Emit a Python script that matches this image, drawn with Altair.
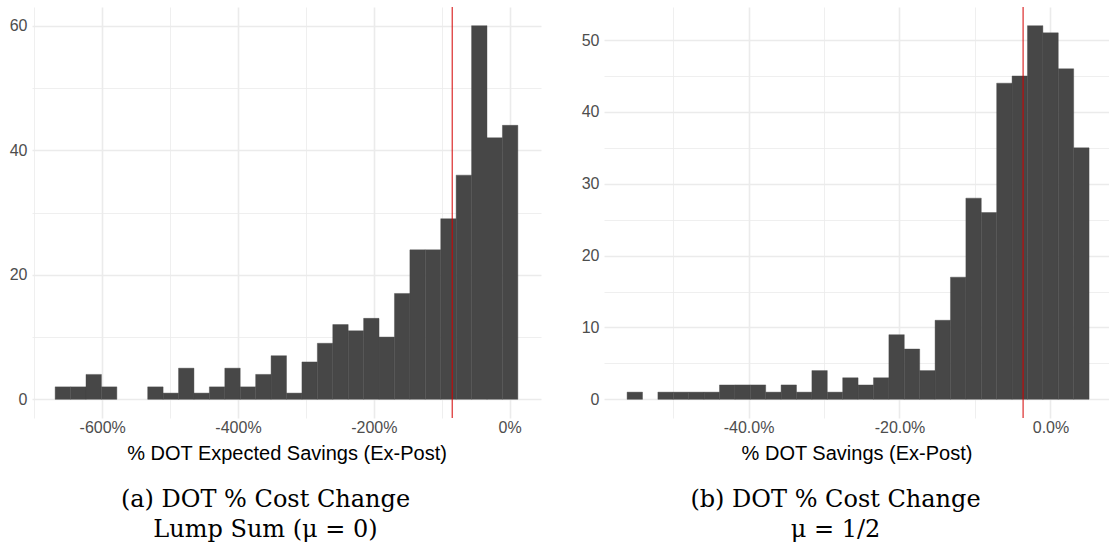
import altair as alt
import pandas as pd

# ---- Panel (a): expected savings, lump sum (percent units) ----
a_lo, a_hi = -669.3, 12.2          # histogram range, 30 equal bins
a_counts = [2, 2, 4, 2, 0, 0, 2, 1, 5, 1, 2, 5, 2, 4, 7,
            1, 6, 9, 12, 11, 13, 10, 17, 24, 24, 29, 36, 60, 42, 44]
a_vline = -84.5
a_xdomain = [-703.4, 46.3]
a_ydomain = [-3, 63]
a_xgrid = [-700, -600, -500, -400, -300, -200, -100, 0]
a_ygrid = [0, 10, 20, 30, 40, 50, 60]

# ---- Panel (b): savings with mu = 1/2 (percent units) ----
b_lo, b_hi = -56.08, 5.11
b_counts = [1, 0, 1, 1, 1, 1, 2, 2, 2, 1, 2, 1, 4, 1, 3,
            2, 3, 9, 7, 4, 11, 17, 28, 26, 44, 45, 52, 51, 46, 35]
b_vline = -3.63
b_xdomain = [-59.14, 7.75]
b_ydomain = [-2.6, 54.6]
b_xgrid = [-50, -40, -30, -20, -10, 0]
b_ygrid = [0, 5, 10, 15, 20, 25, 30, 35, 40, 45, 50]

BAR = "#474747"
VLINE = "#D40000"
GRID = "#EBEBEB"
SANS = "Liberation Sans"
SERIF = "DejaVu Serif"


def bins(lo, hi, counts):
    w = (hi - lo) / len(counts)
    return pd.DataFrame({
        "x0": [lo + i * w for i in range(len(counts))],
        "x1": [lo + (i + 1) * w for i in range(len(counts))],
        "n": counts,
    })


def panel(df, vline, xdom, ydom, xgrid, ygrid, xmajor, ymajor,
          xlabel_expr, xtitle, caption, width, height):
    grid_w = {"condition": {"test": f"abs(datum.value % {xmajor}) < 1e-9", "value": 1.6}, "value": 0.8}
    grid_wy = {"condition": {"test": f"abs(datum.value % {ymajor}) < 1e-9", "value": 1.6}, "value": 0.8}
    x_axis = alt.Axis(
        values=xgrid, grid=True, gridColor=GRID, gridWidth=grid_w,
        ticks=False, domain=False, labelPadding=1.5,
        labelExpr=f"abs(datum.value % {xmajor}) < 1e-9 ? {xlabel_expr} : ''",
        labelFont=SANS, labelFontSize=16, labelColor="#4D4D4D",
        title=xtitle, titleFont=SANS, titleFontSize=20, titleFontWeight="normal",
        titleColor="black", titlePadding=8,
    )
    y_axis = alt.Axis(
        values=ygrid, grid=True, gridColor=GRID, gridWidth=grid_wy,
        ticks=False, domain=False, labelPadding=5,
        labelExpr=f"abs(datum.value % {ymajor}) < 1e-9 ? datum.label : ''",
        labelFont=SANS, labelFontSize=16, labelColor="#4D4D4D", title=None,
    )
    xs = alt.Scale(domain=xdom, nice=False, zero=False)
    ys = alt.Scale(domain=ydom, nice=False, zero=False)

    # empty bins draw nothing
    bars = alt.Chart(df).transform_filter("datum.n > 0").mark_rect(
        color=BAR, stroke=BAR, strokeWidth=0.4
    ).encode(
        x=alt.X("x0:Q", scale=xs, axis=x_axis),
        x2="x1:Q",
        y=alt.Y("n:Q", scale=ys, axis=y_axis),
        y2=alt.datum(0),
    )
    rule = alt.Chart(pd.DataFrame({"v": [vline]})).mark_rule(
        color=VLINE, strokeWidth=1
    ).encode(x=alt.X("v:Q", scale=xs))

    return alt.layer(bars, rule).properties(
        width=width, height=height,
        title=alt.TitleParams(
            caption, orient="bottom", anchor="middle", font=SERIF,
            fontSize=24, fontWeight="normal", color="black",
            lineHeight=30, baseline="top", offset=24, dx=-21,
        ),
    )


left = panel(
    bins(a_lo, a_hi, a_counts), a_vline, a_xdomain, a_ydomain,
    a_xgrid, a_ygrid, 200, 20,
    "(datum.value < 0 ? '-' : '') + format(abs(datum.value), 'd') + '%'",
    "% DOT Expected Savings (Ex-Post)",
    ["(a) DOT % Cost Change", "Lump Sum (μ = 0)"], 509, 411,
)
right = panel(
    bins(b_lo, b_hi, b_counts), b_vline, b_xdomain, b_ydomain,
    b_xgrid, b_ygrid, 20, 10,
    "(datum.value < 0 ? '-' : '') + format(abs(datum.value), '.1f') + '%'",
    "% DOT Savings (Ex-Post)",
    ["(b) DOT % Cost Change", "μ = 1/2"], 505, 411,
)

chart = alt.hconcat(left, right, spacing=63, bounds="flush").properties(
    padding={"left": 9, "top": 6, "right": 0, "bottom": 0},
    background="white",
).configure_view(stroke=None)

chart.save("out.html", embed_options={"renderer": "svg", "actions": False})
